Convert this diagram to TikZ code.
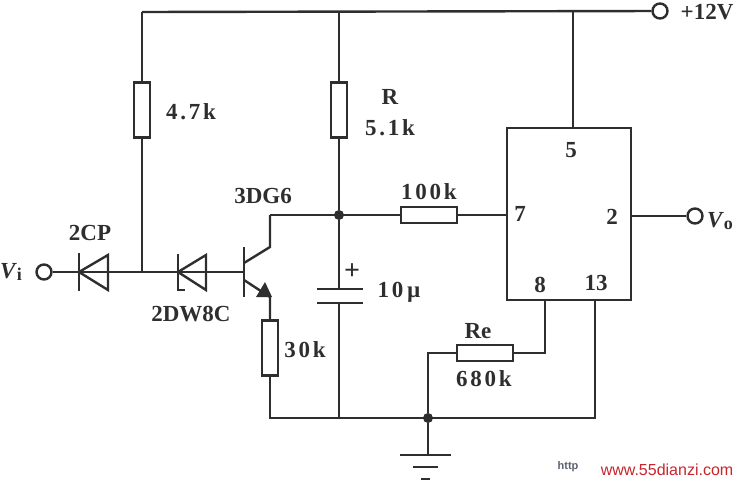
\documentclass[tikz,border=0pt]{standalone}
\usepackage{fontspec}
\setmainfont{Liberation Serif}
\newfontfamily\webfont{Liberation Sans}
\definecolor{inkgray}{HTML}{2E2E2E}
\definecolor{webred}{HTML}{C8242C}
\definecolor{webgray}{HTML}{5A6070}
\tikzset{
	wire/.style={draw=inkgray, line width=2.4pt},
	resv/.style={rectangle, draw=inkgray, line width=2.4pt, minimum width=16pt, minimum height=55pt, inner sep=0pt},
	resh/.style={rectangle, draw=inkgray, line width=2.4pt, minimum width=56pt, minimum height=16pt, inner sep=0pt},
	term/.style={circle, draw=inkgray, line width=2.4pt, minimum size=15pt, inner sep=0pt},
	dotj/.style={circle, fill=inkgray, minimum size=10pt, inner sep=0pt},
	lbl/.style={text=inkgray, font=\fontsize{23}{23}\selectfont\bfseries, inner sep=0pt},
	lblw/.style={text=inkgray, font=\fontsize{23}{23}\selectfont\bfseries\addfontfeature{LetterSpace=12}, inner sep=0pt}
}
\begin{document}
\begin{tikzpicture}[x=1pt,y=-1pt]
		\useasboundingbox (0,0) rectangle (737,482);

		\begin{scope}[every node/.style={resv}]
			\node (Ra) at (142,110) {};
			\node (Rb) at (339,110) {};
			\node (Rd) at (270,348) {};
		\end{scope}
		\node [resh] (Rc) at (429,215) {};
		\node [resh] (Re) at (485,353) {};
		\node [rectangle, draw=inkgray, line width=2.4pt, minimum width=124pt, minimum height=172pt, inner sep=0pt] (IC) at (569,214) {};

		\node [term] (Vcc) at (660,11) {};
		\node [term] (Vin) at (44,272) {};
		\node [term] (Vout) at (695,216) {};

		\node [dotj] (Ja) at (339,215) {};
		\node [dotj] (Jb) at (428,418) {};

		\coordinate (TopA) at (142,12);
		\coordinate (TopB) at (339,12);
		\coordinate (TopC) at (573,12);
		\coordinate (Jc) at (142,272);
		\coordinate (Pin5) at (573,128);
		\coordinate (Pin7) at (507,215);
		\coordinate (Pin2) at (631,216);
		\coordinate (Pin8) at (545,300);
		\coordinate (Pin13) at (595,300);
		\coordinate (Base) at (244,272);
		\coordinate (Coll) at (244,263);
		\coordinate (CollUp) at (270,247);
		\coordinate (CollTop) at (270,215);
		\coordinate (Emit) at (244,280);
		\coordinate (EmitEnd) at (270,297);
		\coordinate (CapA) at (339,289);
		\coordinate (CapB) at (339,303);
		\coordinate (BotA) at (270,418);
		\coordinate (BotB) at (339,418);
		\coordinate (BotC) at (595,418);
		\coordinate (Gnd) at (428,455);

		\begin{scope}[every path/.style={wire}]
			\draw (TopA) -- (Vcc);
			\draw (TopA) -- (Ra.north);
			\draw (Ra.south) -- (Jc);
			\draw (TopB) -- (Rb.north);
			\draw (Rb.south) -- (Ja);
			\draw (Ja) -- (CapA);
			\draw (CapB) -- (BotB);
			\draw (TopC) -- (Pin5);
			\draw (CollTop) -- (Rc.west);
			\draw (Rc.east) -- (Pin7);
			\draw (Pin2) -- (Vout);
			\draw (Vin) -- (Base);
			\draw (Coll) -- (CollUp) -- (CollTop);
			\draw (Emit) -- (EmitEnd) -- (Rd.north);
			\draw (Rd.south) -- (BotA) -- (BotC) -- (Pin13);
			\draw (Pin8) |- (Re.east);
			\draw (Re.west) -| (Jb);
			\draw (Jb) -- (Gnd);
			% diodes
			\draw (79,253) -- (79,291);
			\draw (79,272) -- (108,255) -- (108,290) -- cycle;
			\draw (185,290) -- (178,290) -- (178,254);
			\draw (178,272) -- (206,255) -- (206,290) -- cycle;
			% transistor
			\draw (244,247) -- (244,297);
			% capacitor
			\draw (317,289) -- (363,289);
			\draw (317,303) -- (363,303);
			% ground
			\draw (400,455) -- (451,455);
			\draw (413,467) -- (438,467);
			\draw (421,479) -- (430,479);
		\end{scope}
		\fill [inkgray] (265,282) -- (256,297) -- (272,297) -- cycle;

		\begin{scope}[every node/.style={lbl}]
			\node (LbVcc) at (707,12) {+12V};
			\node (LbR) at (390,97) {R};
			\node (LbT) at (263,196) {3DG6};
			\node (LbCp) at (90,233) {2CP};
			\node (LbDw) at (191,314) {2DW8C};
			\node (LbRe) at (478,331) {Re};
			\node (LbPlus) at (352,272) {\fontsize{28}{28}\selectfont +};
			\node (LbVi) at (11,272) {\textit{V}\raisebox{-2pt}{\fontsize{18}{18}\selectfont i}};
			\node (LbVo) at (720,221) {\textit{V}\raisebox{-2pt}{\fontsize{18}{18}\selectfont o}};
			\node (Lb5) at (571,150) {5};
			\node (Lb7) at (520,214) {7};
			\node (Lb2) at (612,217) {2};
			\node (Lb8) at (540,285) {8};
			\node (Lb13) at (596,283) {13};
		\end{scope}

		\begin{scope}[every node/.style={lblw}]
			\node (LbRa) at (191,112) {4.7k};
			\node (LbRb) at (390,128) {5.1k};
			\node (LbRc) at (429,192) {100k};
			\node (LbRd) at (305,350) {30k};
			\node (LbRf) at (484,379) {680k};
			\node (LbCap) at (399,292) {10\,µ};
		\end{scope}

		\node [text=webgray, font=\webfont\bfseries\fontsize{11}{11}\selectfont, inner sep=0pt] (Http) at (568,467) {http};
		\node [text=webred, font=\webfont\fontsize{16}{16}\selectfont, inner sep=0pt] (Web) at (667,470) {www.55dianzi.com};
	\end{tikzpicture}
\end{document}
